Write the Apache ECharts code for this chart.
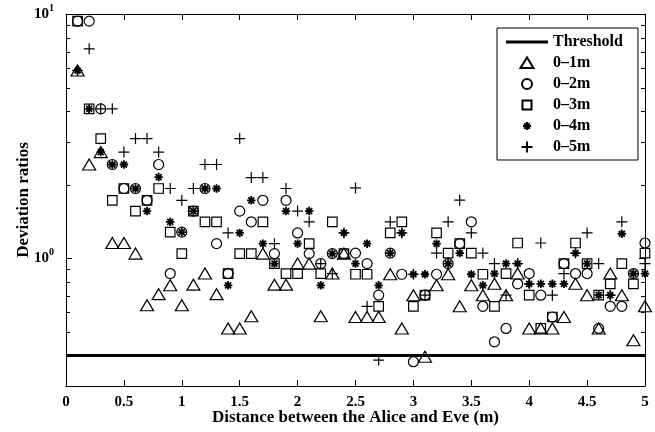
<!DOCTYPE html>
<html>
<head>
<meta charset="utf-8">
<script src="https://cdn.jsdelivr.net/npm/echarts@6/dist/echarts.min.js"></script>
<style>
html, body { margin: 0; padding: 0; background: #fff; }
#chart { width: 655px; height: 432px; }
</style>
</head>
<body>
<div id="chart"></div>
<script>
// Distance between Alice and Eve (m)
const distances = [
  0.1, 0.2, 0.3, 0.4, 0.5, 0.6, 0.7, 0.8, 0.9, 1.0,
  1.1, 1.2, 1.3, 1.4, 1.5, 1.6, 1.7, 1.8, 1.9, 2.0,
  2.1, 2.2, 2.3, 2.4, 2.5, 2.6, 2.7, 2.8, 2.9, 3.0,
  3.1, 3.2, 3.3, 3.4, 3.5, 3.6, 3.7, 3.8, 3.9, 4.0,
  4.1, 4.2, 4.3, 4.4, 4.5, 4.6, 4.7, 4.8, 4.9, 5.0
];

// Deviation ratios per distance range
const ratio01 = [
  5.87, 2.42, 2.72, 1.155, 1.155, 1.045, 0.642, 0.713, 0.775, 0.642,
  0.78, 0.866, 0.713, 0.516, 0.516, 0.579, 1.045, 0.78, 0.78, 0.951,
  0.951, 0.579, 0.866, 1.045, 0.575, 0.575, 0.575, 0.86, 0.516, 0.706,
  0.395, 0.775, 0.86, 0.636, 0.775, 0.706, 0.786, 0.706, 0.866, 0.516,
  0.516, 0.516, 0.575, 0.786, 0.706, 0.516, 0.866, 0.706, 0.462, 0.636
];
const ratio02 = [
  9.35, 9.35, 4.09, 2.42, 1.93, 1.93, 1.727, 2.42, 0.866, 1.28,
  1.56, 1.93, 1.148, 0.866, 1.56, 1.41, 1.727, 1.045, 1.727, 1.27,
  1.045, 0.951, 1.045, 1.045, 1.05, 0.951, 0.706, 1.05, 0.86, 0.377,
  0.706, 0.86, 0.951, 1.148, 1.41, 0.636, 0.455, 0.516, 0.786, 0.866,
  0.706, 0.575, 0.951, 0.866, 0.866, 0.516, 0.636, 0.636, 0.866, 1.155
];
const ratio03 = [
  9.35, 4.09, 3.09, 1.727, 1.93, 1.56, 1.727, 1.93, 1.28, 1.045,
  1.56, 1.41, 1.41, 0.866, 1.045, 1.045, 1.41, 0.951, 0.866, 0.866,
  1.148, 0.866, 1.41, 1.045, 0.86, 0.86, 0.636, 1.27, 1.41, 0.636,
  0.706, 1.27, 1.05, 1.148, 1.05, 0.86, 0.636, 0.866, 1.155, 0.706,
  0.516, 0.575, 0.951, 1.155, 0.951, 0.706, 0.786, 0.951, 0.786, 1.05
];
const ratio04 = [
  5.87, 4.09, 2.72, 2.42, 2.42, 1.93, 1.56, 2.15, 1.41, 1.28,
  1.56, 1.93, 1.93, 0.775, 1.27, 1.727, 1.148, 0.951, 1.56, 1.148,
  1.56, 0.775, 1.045, 1.27, 0.951, 1.148, 0.775, 1.05, 1.27, 0.86,
  0.86, 1.148, 0.951, 1.05, 0.86, 0.775, 0.866, 0.951, 0.951, 0.786,
  0.786, 0.786, 0.786, 1.05, 0.951, 0.706, 0.706, 1.26, 0.866, 0.866
];
const ratio05 = [
  5.87, 7.2, 4.09, 4.09, 2.72, 3.09, 3.09, 2.72, 1.93, 1.727,
  1.93, 2.42, 2.42, 1.27, 3.09, 2.14, 2.14, 1.148, 1.93, 1.56,
  1.41, 0.951, 0.866, 1.27, 1.94, 0.636, 0.383, 1.41, 1.27, 0.86,
  0.706, 1.05, 1.41, 1.73, 1.27, 1.05, 0.951, 0.706, 0.951, 0.786,
  1.155, 0.706, 0.866, 1.05, 1.27, 0.951, 0.706, 1.41, 0.866, 0.951
];

const threshold = 0.4;
const xRange = [0, 5];
const yRange = [0.3, 10];

// Minor tick positions on the logarithmic y axis
const minorTicks = [0.4, 0.5, 0.6, 0.7, 0.8, 0.9, 2, 3, 4, 5, 6, 7, 8, 9];

const FONT = '"Liberation Serif", "Times New Roman", serif';
const INK = '#000';

// Marker shapes drawn as stroked outlines
const plusPath = 'path://M0,5L10,5M5,0L5,10';
const starPath = 'path://M0,5L10,5M5,0L5,10M1.5,1.5L8.5,8.5M1.5,8.5L8.5,1.5';

// Legend icons: the leading moves pin every icon to a 42x11 box so the
// marker stays centred under the threshold line sample
const ICON_BOX = 'M0,0M42,11';
const legendIcons = {
  'Threshold': 'path://' + ICON_BOX + 'M0,4L42,4L42,7L0,7Z',
  '0–1m': 'path://' + ICON_BOX + 'M14.5,10.5L21,0L27.5,10.5Z',
  '0–2m': 'path://' + ICON_BOX + 'M26,5.5A5,5,0,1,1,16,5.5A5,5,0,1,1,26,5.5Z',
  '0–3m': 'path://' + ICON_BOX + 'M16.5,1L25.5,1L25.5,10L16.5,10Z',
  '0–4m': 'path://' + ICON_BOX + 'M21,1.5L21,9.5M17,5.5L25,5.5M18.2,2.7L23.8,8.3M18.2,8.3L23.8,2.7',
  '0–5m': 'path://' + ICON_BOX + 'M21,0L21,11M15.5,5.5L26.5,5.5'
};

function pairs(values) {
  return distances.map((d, i) => [d, values[i]]);
}

function scatter(name, values, symbol, size, width) {
  return {
    name: name,
    type: 'scatter',
    data: pairs(values),
    symbol: symbol,
    symbolSize: size,
    itemStyle: { color: 'rgba(0,0,0,0)', borderColor: INK, borderWidth: width, opacity: 1 },
    emphasis: { disabled: true },
    z: 3
  };
}

const chart = echarts.init(document.getElementById('chart'), null, { renderer: 'canvas' });

chart.setOption({
  animation: false,
  backgroundColor: '#fff',
  grid: { left: 66, right: 10, top: 14, bottom: 46, containLabel: false, outerBoundsMode: 'none' },
  legend: {
    orient: 'vertical',
    left: 497,
    top: 28,
    backgroundColor: '#fff',
    borderColor: INK,
    borderWidth: 1,
    padding: [6, 15, 5, 8],
    itemGap: 5,
    itemWidth: 42,
    itemHeight: 11,
    textStyle: { fontFamily: FONT, fontWeight: 'bold', fontSize: 16, color: INK },
    data: Object.keys(legendIcons).map(name => ({ name: name, icon: legendIcons[name] }))
  },
  xAxis: [
    {
      type: 'value', position: 'bottom', min: xRange[0], max: xRange[1], interval: 0.5,
      name: 'Distance between the Alice and Eve (m)', nameLocation: 'middle', nameGap: 23,
      nameMoveOverlap: false,
      nameTextStyle: { fontFamily: FONT, fontWeight: 'bold', fontSize: 17, color: INK },
      axisLine: { show: true, onZero: false, lineStyle: { color: INK, width: 1 } },
      axisTick: { show: true, inside: true, length: 6, lineStyle: { color: INK } },
      axisLabel: { fontFamily: FONT, fontWeight: 'bold', fontSize: 15, color: INK, margin: 9 },
      splitLine: { show: false }
    },
    {
      type: 'value', position: 'top', min: xRange[0], max: xRange[1], interval: 0.5,
      axisLine: { show: true, onZero: false, lineStyle: { color: INK, width: 1 } },
      axisTick: { show: true, inside: true, length: 6, lineStyle: { color: INK } },
      axisLabel: { show: false },
      splitLine: { show: false }
    }
  ],
  yAxis: [
    {
      type: 'log', logBase: 10, position: 'left', min: yRange[0], max: yRange[1],
      name: 'Deviation ratios', nameLocation: 'middle', nameGap: 34, nameRotate: 90,
      nameMoveOverlap: false,
      nameTextStyle: { fontFamily: FONT, fontWeight: 'bold', fontSize: 17, color: INK },
      axisLine: { show: true, onZero: false, lineStyle: { color: INK, width: 1 } },
      axisTick: { show: true, inside: true, length: 6, lineStyle: { color: INK } },
      axisLabel: {
        margin: 12,
        showMinLabel: false,
        formatter: function (v) {
          if (Math.abs(v - 1) < 1e-9) return '{b|10}{s|0}';
          if (Math.abs(v - 10) < 1e-9) return '{b|10}{s|1}';
          return '';
        },
        rich: {
          b: { fontFamily: FONT, fontWeight: 'bold', fontSize: 15, color: INK, lineHeight: 22 },
          s: { fontFamily: FONT, fontWeight: 'bold', fontSize: 10, color: INK, verticalAlign: 'top', lineHeight: 22 }
        }
      },
      splitLine: { show: false }
    },
    {
      type: 'log', logBase: 10, position: 'right', min: yRange[0], max: yRange[1],
      axisLine: { show: true, onZero: false, lineStyle: { color: INK, width: 1 } },
      axisTick: { show: true, inside: true, length: 6, lineStyle: { color: INK } },
      axisLabel: { show: false },
      splitLine: { show: false }
    }
  ],
  series: [
    {
      name: 'Threshold',
      type: 'line',
      data: [[xRange[0], threshold], [xRange[1], threshold]],
      symbol: 'none',
      lineStyle: { color: INK, width: 3 },
      itemStyle: { color: INK },
      emphasis: { disabled: true },
      z: 2
    },
    scatter('0–1m', ratio01, 'triangle', [13, 11], 1.2),
    scatter('0–2m', ratio02, 'circle', 10, 1.2),
    scatter('0–3m', ratio03, 'rect', 9.5, 1.2),
    scatter('0–4m', ratio04, starPath, 8.5, 1.8),
    scatter('0–5m', ratio05, plusPath, 11, 1.2),
    {
      // minor ticks on the left and right edges of the log axis
      type: 'custom',
      silent: true,
      data: minorTicks.map(v => [xRange[0], v]),
      encode: { x: 0, y: 1 },
      renderItem: function (params, api) {
        const cs = params.coordSys;
        const y = Math.round(api.coord([xRange[0], api.value(1)])[1]) + 0.5;
        return {
          type: 'group',
          children: [
            { type: 'line', shape: { x1: cs.x, y1: y, x2: cs.x + 4, y2: y }, style: { stroke: INK, lineWidth: 1 } },
            { type: 'line', shape: { x1: cs.x + cs.width, y1: y, x2: cs.x + cs.width - 4, y2: y }, style: { stroke: INK, lineWidth: 1 } }
          ]
        };
      },
      z: 4
    }
  ]
});
</script>
</body>
</html>
